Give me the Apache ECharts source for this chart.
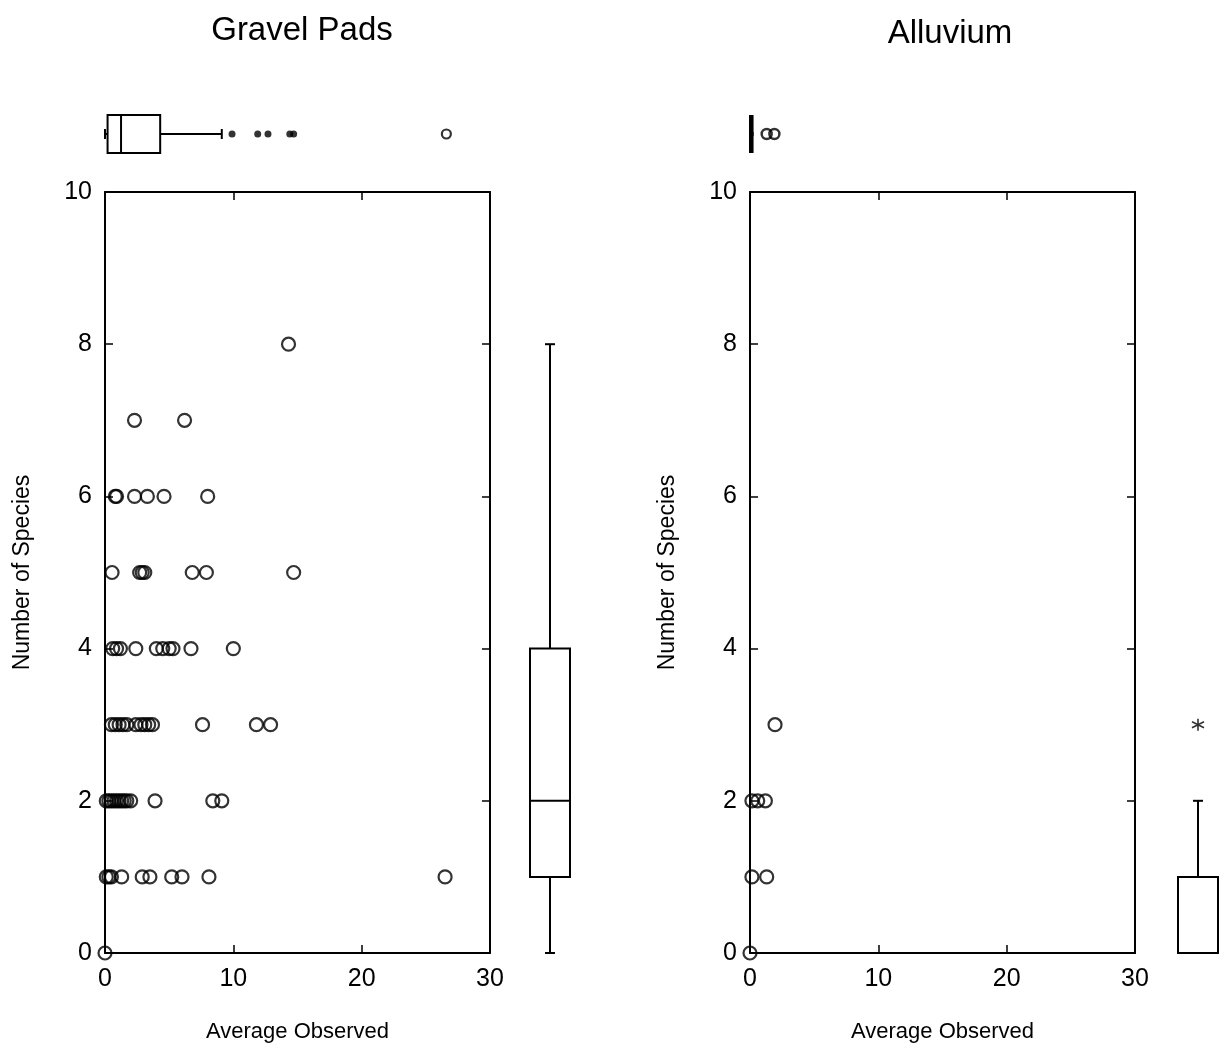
<!DOCTYPE html>
<html>
<head>
<meta charset="utf-8">
<script src="https://cdn.jsdelivr.net/npm/echarts@6/dist/echarts.min.js"></script>
<style>
html,body{margin:0;padding:0;background:#fff;}
#chart{width:1226px;height:1053px;}
</style>
</head>
<body>
<div id="chart"></div>
<script>
// ---------- data ----------
const titles = ['Gravel Pads', 'Alluvium'];
const xTicks = [0, 10, 20, 30];
const yTicks = [0, 2, 4, 6, 8, 10];

// Gravel pads scatter (average observed, number of species)
const gravelAvg = [
  0,
  0.1, 0.3, 0.5, 1.3, 2.9, 3.5, 5.2, 6.0, 8.1, 26.5,
  0.1, 0.3, 0.5, 0.7, 0.9, 1.1, 1.3, 1.5, 1.7, 2.0, 3.9, 8.4, 9.1,
  0.5, 0.8, 1.1, 1.4, 1.7, 2.4, 2.8, 3.1, 3.4, 3.7, 7.6, 11.8, 12.9,
  0.6, 0.9, 1.2, 2.4, 4.0, 4.5, 5.0, 5.3, 6.7, 10.0,
  0.55, 2.7, 2.9, 3.1, 6.8, 7.9, 14.7,
  0.8, 0.9, 2.3, 3.3, 4.6, 8.0,
  2.3, 6.2,
  14.3
];
const gravelSpecies = [
  0,
  1, 1, 1, 1, 1, 1, 1, 1, 1, 1,
  2, 2, 2, 2, 2, 2, 2, 2, 2, 2, 2, 2, 2,
  3, 3, 3, 3, 3, 3, 3, 3, 3, 3, 3, 3, 3,
  4, 4, 4, 4, 4, 4, 4, 4, 4, 4,
  5, 5, 5, 5, 5, 5, 5,
  6, 6, 6, 6, 6, 6,
  7, 7,
  8
];

// Alluvium scatter
const alluviumAvg = [0, 0.15, 1.3, 0.15, 0.6, 1.2, 1.95];
const alluviumSpecies = [0, 1, 1, 2, 2, 2, 3];

// Box plots: [min, Q1, median, Q3, max]
const gravelAvgBox = [0, 0.2, 1.25, 4.3, 9.1];
const gravelAvgOutliers = [9.9, 11.9, 12.7, 14.4, 14.7];
const gravelAvgFarOutliers = [26.6];
const gravelSpeciesBox = [0, 1, 2, 4, 8];

const alluviumAvgBox = [0, 0, 0.1, 0.2, 0.2];
const alluviumAvgOutliers = [1.3, 1.9];
const alluviumSpeciesBox = [0, 0, 0, 1, 2];
const alluviumSpeciesOutliers = [3];

// ---------- chart ----------
const FONT = 'Liberation Sans, DejaVu Sans, sans-serif';
const chart = echarts.init(document.getElementById('chart'));

function pairs(xs, ys) { return xs.map((x, i) => [x, ys[i]]); }

function boxRender(horizontal, halfW, capHalf) {
  return function (params, api) {
    const v = [api.value(0), api.value(1), api.value(2), api.value(3), api.value(4)];
    const P = function (val, off) {
      if (horizontal) { const c = api.coord([val, 0.5]); return [c[0], c[1] + off]; }
      const c = api.coord([0.5, val]); return [c[0] + off, c[1]];
    };
    const st = { stroke: '#000', fill: 'none', lineWidth: 2 };
    const line = (a, b) => ({ type: 'line', shape: { x1: a[0], y1: a[1], x2: b[0], y2: b[1] }, style: st });
    return {
      type: 'group',
      children: [
        { type: 'polygon', shape: { points: [P(v[1], -halfW), P(v[3], -halfW), P(v[3], halfW), P(v[1], halfW)] }, style: st },
        line(P(v[2], -halfW), P(v[2], halfW)),
        line(P(v[0], 0), P(v[1], 0)),
        line(P(v[3], 0), P(v[4], 0)),
        line(P(v[0], -capHalf), P(v[0], capHalf)),
        line(P(v[4], -capHalf), P(v[4], capHalf))
      ]
    };
  };
}

const labelStyle = { fontFamily: FONT, fontSize: 25, color: '#000' };
const xNameStyle = { fontFamily: FONT, fontSize: 22, color: '#000' };
const yNameStyle = { fontFamily: FONT, fontSize: 23, color: '#000' };
const lineStyle = { color: '#000', width: 2 };

function mainX(grid, pos, labels) {
  return {
    type: 'value', gridIndex: grid, position: pos, min: 0, max: 30, interval: 10,
    axisLine: { show: true, onZero: false, lineStyle },
    axisTick: { show: true, inside: true, length: 8, lineStyle: { color: '#000', width: 1.5 } },
    axisLabel: { show: labels, margin: 14, ...labelStyle },
    splitLine: { show: false },
    name: labels ? 'Average Observed' : '',
    nameLocation: 'middle', nameGap: 68, nameTextStyle: xNameStyle
  };
}
function mainY(grid, pos, labels) {
  return {
    type: 'value', gridIndex: grid, position: pos, min: 0, max: 10, interval: 2,
    axisLine: { show: true, onZero: false, lineStyle },
    axisTick: { show: true, inside: true, length: 8, lineStyle: { color: '#000', width: 1.5 } },
    axisLabel: { show: labels, margin: 13, ...labelStyle },
    splitLine: { show: false },
    name: labels ? 'Number of Species' : '',
    nameLocation: 'middle', nameGap: 71, nameTextStyle: yNameStyle
  };
}
function hiddenAxis(grid, min, max) {
  return { type: 'value', gridIndex: grid, min, max, show: false, splitLine: { show: false } };
}

const circleStyle = { color: 'rgba(0,0,0,0)', borderColor: '#000', borderWidth: 2.2 };

const option = {
  animation: false,
  backgroundColor: '#fff',
  title: [
    { text: titles[0], left: 297, top: 9, textAlign: 'center', textStyle: { fontFamily: FONT, fontSize: 33, fontWeight: 'normal', color: '#000' } },
    { text: titles[1], left: 945, top: 12, textAlign: 'center', textStyle: { fontFamily: FONT, fontSize: 33, fontWeight: 'normal', color: '#000' } }
  ],
  grid: [
    { left: 105, top: 192, width: 385, height: 761 },
    { left: 750, top: 192, width: 385, height: 761 },
    { left: 105, top: 112, width: 385, height: 44 },
    { left: 750, top: 112, width: 385, height: 44 },
    { left: 520, top: 192, width: 60, height: 761 },
    { left: 1170, top: 192, width: 58, height: 761 }
  ],
  xAxis: [
    mainX(0, 'bottom', true), mainX(0, 'top', false),
    mainX(1, 'bottom', true), mainX(1, 'top', false),
    hiddenAxis(2, 0, 30), hiddenAxis(3, 0, 30),
    hiddenAxis(4, 0, 1), hiddenAxis(5, 0, 1)
  ],
  yAxis: [
    mainY(0, 'left', true), mainY(0, 'right', false),
    mainY(1, 'left', true), mainY(1, 'right', false),
    hiddenAxis(2, 0, 1), hiddenAxis(3, 0, 1),
    hiddenAxis(4, 0, 10), hiddenAxis(5, 0, 10)
  ],
  series: [
    { type: 'scatter', xAxisIndex: 0, yAxisIndex: 0, symbol: 'circle', symbolSize: 13, clip: false,
      itemStyle: circleStyle, data: pairs(gravelAvg, gravelSpecies) },
    { type: 'scatter', xAxisIndex: 2, yAxisIndex: 2, symbol: 'circle', symbolSize: 13, clip: false,
      itemStyle: circleStyle, data: pairs(alluviumAvg, alluviumSpecies) },

    // top-left horizontal box
    { type: 'custom', xAxisIndex: 4, yAxisIndex: 4, renderItem: boxRender(true, 19, 5), data: [gravelAvgBox] },
    { type: 'scatter', xAxisIndex: 4, yAxisIndex: 4, symbol: 'circle', symbolSize: 7,
      itemStyle: { color: '#000' }, data: gravelAvgOutliers.map(v => [v, 0.5]) },
    { type: 'scatter', xAxisIndex: 4, yAxisIndex: 4, symbol: 'circle', symbolSize: 9,
      itemStyle: { color: 'rgba(0,0,0,0)', borderColor: '#000', borderWidth: 2.2 }, data: gravelAvgFarOutliers.map(v => [v, 0.5]) },

    // top-right horizontal box
    { type: 'custom', xAxisIndex: 5, yAxisIndex: 5, renderItem: boxRender(true, 18, 2), data: [alluviumAvgBox] },
    { type: 'scatter', xAxisIndex: 5, yAxisIndex: 5, symbol: 'circle', symbolSize: 10,
      itemStyle: { color: 'rgba(0,0,0,0)', borderColor: '#000', borderWidth: 2.5 }, data: alluviumAvgOutliers.map(v => [v, 0.5]) },

    // right-side vertical boxes
    { type: 'custom', xAxisIndex: 6, yAxisIndex: 6, renderItem: boxRender(false, 20, 5), data: [gravelSpeciesBox] },
    { type: 'custom', xAxisIndex: 7, yAxisIndex: 7, renderItem: boxRender(false, 20, 5), data: [alluviumSpeciesBox] },
    { type: 'scatter', xAxisIndex: 7, yAxisIndex: 7, clip: false,
      symbol: 'path://M5,0L5,10M0.7,2.5L9.3,7.5M0.7,7.5L9.3,2.5', symbolSize: 12,
      itemStyle: { color: 'none', borderColor: '#000', borderWidth: 1.6 },
      data: alluviumSpeciesOutliers.map(v => [0.5, v]) }
  ]
};
chart.setOption(option);
</script>
</body>
</html>
